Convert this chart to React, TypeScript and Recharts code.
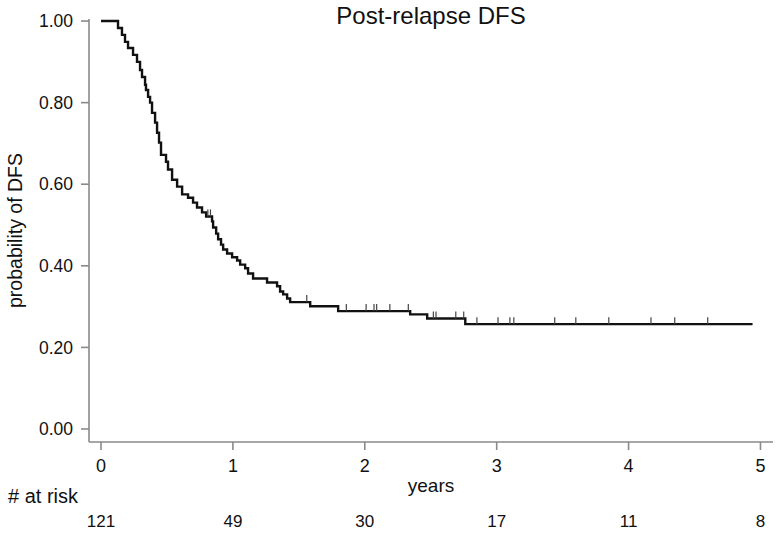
import React from 'react';
import { ComposedChart, Line, Scatter, XAxis, YAxis, Label } from 'recharts';

// x axis: years since relapse
const yearTicks = [0, 1, 2, 3, 4, 5];
const atRisk = [121, 49, 30, 17, 11, 8];
const probTicks = [0, 0.2, 0.4, 0.6, 0.8, 1];

// Kaplan-Meier steps (time of drop, survival after drop)
const stepTimes = [
  0, 0.129, 0.159, 0.182, 0.205, 0.243, 0.273, 0.296, 0.311, 0.334, 0.341, 0.357, 0.372,
  0.387, 0.41, 0.425, 0.44, 0.455, 0.493, 0.508, 0.539, 0.577, 0.615, 0.66, 0.698, 0.728,
  0.766, 0.797, 0.842, 0.85, 0.873, 0.888, 0.91, 0.926, 0.956, 0.994, 1.032, 1.055, 1.093,
  1.115, 1.153, 1.259, 1.335, 1.358, 1.381, 1.411, 1.434, 1.586, 1.798, 2.344, 2.473, 2.762,
  4.94,
];
const stepSurv = [
  1, 0.983, 0.966, 0.949, 0.934, 0.917, 0.9, 0.88, 0.863, 0.844, 0.831, 0.814, 0.8,
  0.775, 0.751, 0.726, 0.702, 0.672, 0.655, 0.636, 0.611, 0.594, 0.575, 0.567, 0.555, 0.543,
  0.531, 0.521, 0.509, 0.494, 0.479, 0.465, 0.452, 0.44, 0.43, 0.421, 0.413, 0.403, 0.394,
  0.381, 0.369, 0.359, 0.35, 0.337, 0.33, 0.32, 0.311, 0.301, 0.289, 0.281, 0.271, 0.257,
  0.257,
];

// censored observations
const censorTimes = [
  0.81, 0.83, 1.56, 1.86, 2.01, 2.07, 2.09, 2.19, 2.33, 2.52, 2.54, 2.69, 2.75,
  2.85, 3.01, 3.1, 3.13, 3.44, 3.6, 3.85, 4.17, 4.35, 4.6,
];
const censorSurv = [
  0.521, 0.521, 0.311, 0.289, 0.289, 0.289, 0.289, 0.289, 0.289, 0.271, 0.271, 0.271, 0.271,
  0.257, 0.257, 0.257, 0.257, 0.257, 0.257, 0.257, 0.257, 0.257, 0.257,
];

const curve = stepTimes.map((t, i) => ({ t, s: stepSurv[i] }));
const censored = censorTimes.map((t, i) => ({ t, s: censorSurv[i] }));
// anchors so the "at risk" axis has data to scale against
const riskRow = yearTicks.map((t, i) => ({ t, s: 0, n: atRisk[i] }));

const FONT = '"Liberation Sans", Arial, Helvetica, sans-serif';
const AXIS = '#8a8a8a';
const INK = '#111';

const CensorMark = (props: any) => {
  const { cx, cy } = props;
  if (cx == null || cy == null) return null;
  return <line x1={cx} x2={cx} y1={cy - 7} y2={cy} stroke="#444" strokeWidth={1.2} />;
};

const NoMark = () => null;

export default function App() {
  return (
    <div style={{ position: 'absolute', left: 0, top: 0, width: 777, height: 535, background: '#fff', fontFamily: FONT }}>
      <div
        style={{
          position: 'absolute', left: 89, width: 684, top: 2, textAlign: 'center',
          fontSize: 24, color: INK, zIndex: 2,
        }}
      >
        Post-relapse DFS
      </div>
      <ComposedChart width={777} height={535} margin={{ top: 19, right: 4, bottom: 6, left: 0 }}>
        <XAxis
          dataKey="t"
          type="number"
          domain={[-0.091, 5.095]}
          allowDataOverflow
          ticks={yearTicks}
          interval={0}
          height={52}
          tickSize={8}
          tickMargin={9}
          axisLine={{ stroke: AXIS, strokeWidth: 1.6 }}
          tickLine={{ stroke: AXIS, strokeWidth: 1.6 }}
          tick={{ fill: INK, fontSize: 18, fontFamily: FONT }}
        >
          <Label value="years" position="insideBottom" offset={2} style={{ fill: INK, fontSize: 19, fontFamily: FONT }} />
        </XAxis>
        <XAxis
          xAxisId="risk"
          dataKey="t"
          type="number"
          domain={[-0.091, 5.095]}
          allowDataOverflow
          ticks={yearTicks}
          interval={0}
          height={35}
          tickSize={0}
          tickMargin={21}
          axisLine={false}
          tickLine={false}
          tickFormatter={(v: number) => String(atRisk[yearTicks.indexOf(v)] ?? '')}
          tick={{ fill: INK, fontSize: 17, fontFamily: FONT }}
        >
          <Label
            content={(p: any) => {
              const vb = p.viewBox || { x: 89, y: 494 };
              return (
                <text x={vb.x - 11} y={vb.y + 9} textAnchor="end" fill={INK} fontSize={20} fontFamily={FONT}>
                  # at risk
                </text>
              );
            }}
          />
        </XAxis>
        <YAxis
          dataKey="s"
          type="number"
          domain={[-0.0319, 1.005]}
          allowDataOverflow
          ticks={probTicks}
          interval={0}
          width={89}
          tickSize={8}
          tickMargin={8}
          tickFormatter={(v: number) => v.toFixed(2)}
          axisLine={{ stroke: AXIS, strokeWidth: 1.6 }}
          tickLine={{ stroke: AXIS, strokeWidth: 1.6 }}
          tick={{ fill: INK, fontSize: 17.5, fontFamily: FONT }}
        >
          <Label
            value="probability of DFS"
            angle={-90}
            position="insideLeft"
            offset={15}
            style={{ textAnchor: 'middle', fill: INK, fontSize: 19.5, fontFamily: FONT }}
          />
        </YAxis>
        <Line
          data={curve}
          dataKey="s"
          type="stepAfter"
          stroke={INK}
          strokeWidth={2.4}
          dot={false}
          activeDot={false}
          isAnimationActive={false}
        />
        <Scatter data={censored} dataKey="s" shape={CensorMark} isAnimationActive={false} />
        <Scatter xAxisId="risk" data={riskRow} dataKey="s" shape={NoMark} isAnimationActive={false} />
      </ComposedChart>
    </div>
  );
}
